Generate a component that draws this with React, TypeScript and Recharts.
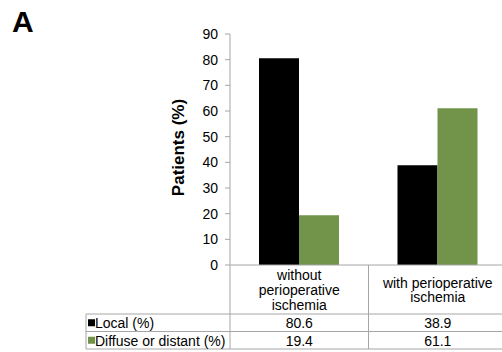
import React from "react";
import { BarChart, Bar, XAxis, YAxis } from "recharts";

const categories = ["without perioperative ischemia", "with perioperative ischemia"];
const categoryLines = [
  ["without", "perioperative", "ischemia"],
  ["with perioperative", "ischemia"],
];
const seriesNames = ["Local (%)", "Diffuse or distant (%)"];
const localValues = [80.6, 38.9];
const diffuseValues = [19.4, 61.1];
const yTicks = [0, 10, 20, 30, 40, 50, 60, 70, 80, 90];

const COLORS = ["#000000", "#71934a"];
const FONT = "'Liberation Sans', Arial, Helvetica, sans-serif";
const GRID = "#a6a6a6";

const data = categories.map((c, i) => ({
  name: c,
  local: localValues[i],
  diffuse: diffuseValues[i],
}));

const CHART_W = 510;
const CHART_H = 352;
const MARGIN = { top: 34, right: 3, bottom: 2, left: 0 };
const Y_AXIS_W = 230;
const X_AXIS_H = 85;
const PLOT_LEFT = MARGIN.left + Y_AXIS_W;
const PLOT_RIGHT = CHART_W - MARGIN.right;
const PLOT_BOTTOM = CHART_H - MARGIN.bottom - X_AXIS_H;
const BAND = (PLOT_RIGHT - PLOT_LEFT) / categories.length;
const LABEL_AREA_H = 49;
const ROW_H = 17.5;
const TABLE_LEFT = 86;
const TXT = 14;

const seriesValues = [localValues, diffuseValues];

const TableTick = (props: any) => {
  const { x, index } = props;
  const top = PLOT_BOTTOM;
  const rowsTop = top + LABEL_AREA_H;
  const bottom = rowsTop + ROW_H * seriesNames.length;
  const lines = categoryLines[index] || [];
  const lh = 14.8;
  const centerY = top + LABEL_AREA_H / 2 + 0.5;
  const startY = centerY - ((lines.length - 1) * lh) / 2;
  return (
    <g fontFamily={FONT} fontSize={TXT} fill="#000">
      {index === 0 && (
        <g>
          <line x1={PLOT_LEFT} y1={top} x2={PLOT_LEFT} y2={bottom} stroke={GRID} />
          <line x1={TABLE_LEFT} y1={rowsTop} x2={TABLE_LEFT} y2={bottom} stroke={GRID} />
          {seriesNames.map((_, r) => (
            <line
              key={"h" + r}
              x1={TABLE_LEFT}
              y1={rowsTop + ROW_H * r}
              x2={PLOT_RIGHT}
              y2={rowsTop + ROW_H * r}
              stroke={GRID}
            />
          ))}
          <line x1={TABLE_LEFT} y1={bottom} x2={PLOT_RIGHT} y2={bottom} stroke={GRID} />
          {seriesNames.map((n, r) => (
            <g key={"l" + r}>
              <rect
                x={TABLE_LEFT + 2}
                y={rowsTop + ROW_H * r + ROW_H / 2 - 3.5}
                width={7}
                height={7}
                fill={COLORS[r]}
              />
              <text
                x={TABLE_LEFT + 9}
                y={rowsTop + ROW_H * r + ROW_H / 2 + 0.5}
                dominantBaseline="central"
                textAnchor="start"
                fill="#000"
              >
                {n}
              </text>
            </g>
          ))}
        </g>
      )}
      <line x1={x + BAND / 2} y1={top} x2={x + BAND / 2} y2={bottom} stroke={GRID} />
      {lines.map((l, k) => (
        <text
          key={"c" + k}
          x={x}
          y={startY + k * lh}
          textAnchor="middle"
          dominantBaseline="central"
          fill="#000"
        >
          {l}
        </text>
      ))}
      {seriesValues.map((vals, r) => (
        <text
          key={"v" + r}
          x={x}
          y={rowsTop + ROW_H * r + ROW_H / 2 + 0.5}
          textAnchor="middle"
          dominantBaseline="central"
          fill="#000"
        >
          {vals[index].toFixed(1)}
        </text>
      ))}
    </g>
  );
};

const YLabel = (props: any) => {
  const vb = props.viewBox || { x: 0, y: 34, width: 230, height: 231 };
  const cx = vb.x + vb.width - 52;
  const cy = vb.y + vb.height / 2 - 2;
  return (
    <text
      x={cx}
      y={cy}
      transform={`rotate(-90 ${cx} ${cy})`}
      textAnchor="middle"
      dominantBaseline="central"
      fontFamily={FONT}
      fontSize={17}
      fontWeight="bold"
      fill="#000"
    >
      Patients (%)
    </text>
  );
};

export default function App() {
  return (
    <div
      style={{
        position: "absolute",
        left: 0,
        top: 0,
        width: 502,
        height: 352,
        overflow: "hidden",
        background: "#fff",
      }}
    >
      <div
        style={{
          position: "absolute",
          left: 12,
          top: 5,
          fontFamily: FONT,
          fontSize: 30,
          fontWeight: "bold",
          color: "#000",
          lineHeight: "34px",
        }}
      >
        A
      </div>
      <BarChart
        width={CHART_W}
        height={CHART_H}
        data={data}
        margin={MARGIN}
        barGap={0}
        barSize={40}
      >
        <XAxis
          dataKey="name"
          height={X_AXIS_H}
          axisLine={{ stroke: GRID }}
          tickLine={false}
          tick={<TableTick />}
          interval={0}
        />
        <YAxis
          width={Y_AXIS_W}
          domain={[0, 90]}
          ticks={yTicks}
          interval={0}
          axisLine={{ stroke: GRID }}
          tickLine={{ stroke: GRID }}
          tickSize={5}
          tickMargin={7}
          tick={{ fontFamily: FONT, fontSize: 14, fill: "#000" }}
          label={{ content: <YLabel /> }}
        />
        <Bar dataKey="local" name={seriesNames[0]} fill={COLORS[0]} isAnimationActive={false} />
        <Bar dataKey="diffuse" name={seriesNames[1]} fill={COLORS[1]} isAnimationActive={false} />
      </BarChart>
    </div>
  );
}
